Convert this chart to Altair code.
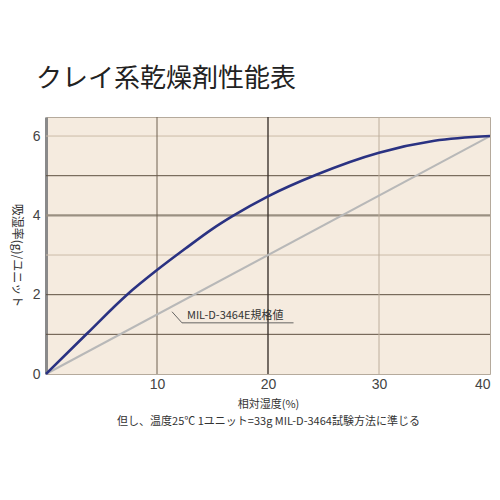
import altair as alt
import pandas as pd

# ---- data ----
humidity = [0, 3.7, 7.3, 10, 12.5, 15, 16.8, 20, 24.4, 30, 35, 40]
absorption = [0, 1.02, 2.0, 2.62, 3.15, 3.66, 3.98, 4.48, 5.03, 5.58, 5.88, 6.0]

spec_x = [0, 40]
spec_y = [0, 6]

h_dark = [1, 2, 5]
h_light = [3, 6]
h_mid = [4]
v_mid = [10]
v_dark = [20]
v_light = [30]

leader_x = [11.35, 12.25, 22.3]
leader_y = [1.57, 1.29, 1.29]
label_x = [12.7]
label_y = [1.47]
label_text = ["MIL-D-3464E規格値"]

x_ticks = [10, 20, 30, 40]
y_ticks = [0, 2, 4, 6]

title_text = "クレイ系乾燥剤性能表"
y_title = "吸湿率(g)/ユニット"
x_title = ["相対湿度(%)", "但し、温度25℃ 1ユニット=33g MIL-D-3464試験方法に準じる"]

JP = "Noto Sans CJK JP"

curve = pd.DataFrame({"x": humidity, "y": absorption})
spec = pd.DataFrame({"x": spec_x, "y": spec_y})
leader = pd.DataFrame({"x": leader_x, "y": leader_y, "o": list(range(len(leader_x)))})
lab = pd.DataFrame({"x": label_x, "y": label_y, "t": label_text})

xs = alt.Scale(domain=[0, 40], nice=False, zero=False)
ys = alt.Scale(domain=[0, 6.48], nice=False)

xaxis = alt.Axis(values=x_ticks, grid=False, ticks=False, domain=False,
                 labelFont="Liberation Sans", labelFontSize=14, labelColor="#444",
                 labelPadding=3, labelFlush=True, labelBound=False,
                 title=x_title, titleFont=JP, titleFontSize=11,
                 titleFontWeight="normal", titleColor="#333", titleLineHeight=17,
                 titleBaseline="top", titleY=24)
yaxis = alt.Axis(values=y_ticks, grid=False, ticks=False, domain=True,
                 domainColor="#8a8a8a", domainWidth=3,
                 labelFont="Liberation Sans", labelFontSize=14, labelColor="#444",
                 labelPadding=6, title=y_title, titleFont=JP, titleFontSize=12,
                 titleFontWeight="normal", titleColor="#333", titleAngle=90,
                 titleAlign="center", titleBaseline="middle", titleX=-30, titleY=138)

X = lambda f: alt.X(f, scale=xs, axis=xaxis)
Y = lambda f: alt.Y(f, scale=ys, axis=yaxis)

def hrules(vals, color, width):
    return alt.Chart(pd.DataFrame({"v": vals})).mark_rule(color=color, strokeWidth=width).encode(
        y=Y("v:Q"))

def vrules(vals, color, width):
    return alt.Chart(pd.DataFrame({"v": vals})).mark_rule(color=color, strokeWidth=width).encode(
        x=X("v:Q"))

grid = [
    hrules(h_light, "#cbbba8", 1),
    hrules(h_dark, "#5e5040", 1),
    hrules(h_mid, "#9a9082", 2.2),
    vrules(v_light, "#bdae9c", 1),
    vrules(v_mid, "#6e6050", 1),
    vrules(v_dark, "#3e3530", 1.4),
]

spec_line = alt.Chart(spec).mark_line(color="#b8b8b8", strokeWidth=2).encode(
    x=X("x:Q"), y=Y("y:Q"))

curve_line = alt.Chart(curve).mark_line(color="#2a3282", strokeWidth=2.6, interpolate="monotone").encode(
    x=X("x:Q"), y=Y("y:Q"))

leader_line = alt.Chart(leader).mark_line(color="#555", strokeWidth=0.9).encode(
    x=X("x:Q"), y=Y("y:Q"), order="o:Q")

label = alt.Chart(lab).mark_text(align="left", baseline="middle", font=JP, fontSize=11,
                                 color="#333").encode(
    x=X("x:Q"), y=Y("y:Q"), text="t:N")

chart = alt.layer(*grid, spec_line, curve_line, leader_line, label).properties(
    width=444, height=257,
    autosize=alt.AutoSizeParams(type="none"),
    padding={"left": 38, "top": 109, "right": 2, "bottom": 70},
    title=alt.TitleParams(title_text, font=JP, fontSize=26, fontWeight="normal",
                          color="#222", anchor="start", frame="group", dx=-10, offset=24),
    background="white",
).configure_view(fill="#f5ebdf", stroke="#b5aa9c", strokeWidth=1)

chart.save("out.html", embed_options={"renderer": "svg", "actions": False})
